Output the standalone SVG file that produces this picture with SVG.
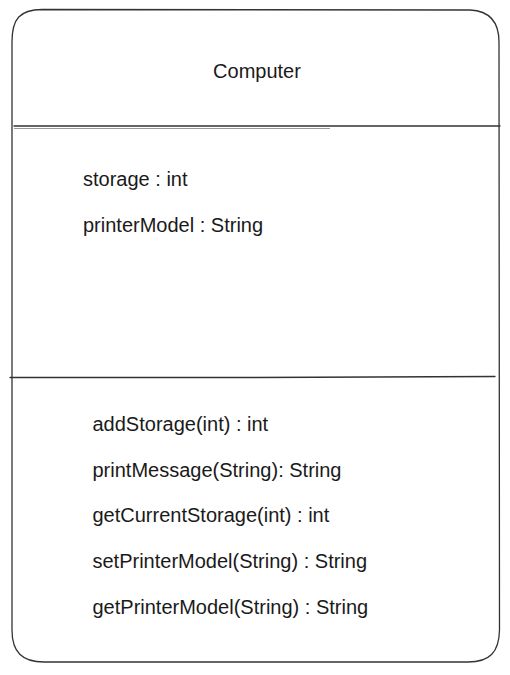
<svg xmlns="http://www.w3.org/2000/svg" width="510" height="675" viewBox="0 0 510 675">
<style>
.t{font-family:"Liberation Sans",Arial,sans-serif;font-size:20px;fill:#1a1a1a}
.s{fill:none;stroke:#333;stroke-width:1.3;stroke-linecap:round}
.g{fill:none;stroke:#999;stroke-width:1.2}
</style>
<rect width="510" height="675" fill="#fff"/>
<g id="computer">
<path class="s" d="M12,42 C12,18 20,10 42,9.5 L470,10 C490,11 499,22 499,42 L499.5,630 C499,652 490,662 468,662 L44,662 C22,662 12,652 12,630 Z"/>
<path class="s" d="M14,126 L500,126"/>
<path class="g" d="M14,128.5 L330,128.5"/>
<path class="s" d="M10,377.5 L250,377.5 L495,376.5"/>
<text class="t" x="257" y="78" text-anchor="middle">Computer</text>
<text class="t" x="83" y="186">storage : int</text>
<text class="t" x="83" y="232">printerModel : String</text>
<text class="t" x="92.5" y="431">addStorage(int) : int</text>
<text class="t" x="92.5" y="476.5">printMessage(String): String</text>
<text class="t" x="92.5" y="522">getCurrentStorage(int) : int</text>
<text class="t" x="92.5" y="568">setPrinterModel(String) : String</text>
<text class="t" x="92.5" y="613.5">getPrinterModel(String) : String</text>
</g>
<g id="connectors"></g>
</svg>
